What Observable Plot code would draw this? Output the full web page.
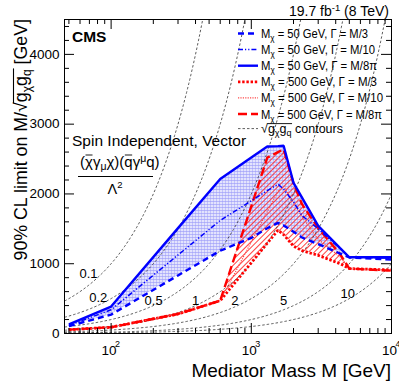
<!DOCTYPE html>
<html><head><meta charset="utf-8">
<script src="https://cdn.jsdelivr.net/npm/d3@7"></script>
<script src="https://cdn.jsdelivr.net/npm/@observablehq/plot@0.6"></script>
<style>
html,body{margin:0;padding:0;background:#fff;}
#chart{position:relative;width:399px;height:383px;}
</style></head><body>
<svg width="0" height="0" style="position:absolute">
<defs>
<pattern id="bluePat" width="3" height="3" patternUnits="userSpaceOnUse">
<rect width="3" height="3" fill="#dcdcfd" fill-opacity="0.8"/>
<rect width="3" height="1" fill="#9a9af8" fill-opacity="0.6"/>
<rect width="1" height="3" fill="#9a9af8" fill-opacity="0.45"/>
</pattern>
<pattern id="redPat" width="4" height="4" patternUnits="userSpaceOnUse" patternTransform="rotate(45)">
<line x1="0.5" y1="0" x2="0.5" y2="4" stroke="#ff2a2a" stroke-width="0.9"/>
</pattern>
</defs></svg>
<div id="chart"></div>
<script>
// ---------- data ----------
const massGrid = [50, 100, 300, 600, 1000, 1300, 1550, 1700, 2000, 2300, 3000, 4300, 5000, 10000];
const blueM3   = [105, 271, 832, 1186, 1370, 1509, 1585, 1549, 1457, 1376, 1281, 1145, 1090, 1060];
const blueM10  = [115, 340, 1125, 1620, 1902, 2047, 2140, 2068, 1885, 1690, 1500, 1215, 1095, 1080];
const blueM8pi = [130, 386, 1510, 2214, 2522, 2680, 2685, 2690, 2160, 1947, 1543, 1224, 1093, 1093];
const redM3    = [55, 90, 280, 470, 1014, 1294, 1480, 1417, 1253, 1188, 1120, 1000, 930, 910];
const redM10   = [55, 90, 280, 470, 1313, 1747, 2038, 2110, 1874, 1676, 1350, 1100, 930, 905];
const redM8pi  = [55, 90, 280, 470, 1823, 2520, 2600, 2640, 2150, 1853, 1510, 1138, 930, 900];

const couplings = [0.1, 0.2, 0.5, 1, 2, 5, 10];
const couplingLabels = ["0.1", "0.2", "0.5", "1", "2", "5", "10"];
const labelAnchorM = [69, 81, 201, 400, 762, 1700, 4880];
const labelAnchorV = [860, 516, 473, 473, 473, 473, 573];

const yMajorTicks = [0, 1000, 2000, 3000, 4000];
const yTickLabels = ["0", "1000", "2000", "3000", "4000"];
const xMajorTicks = [100, 1000, 10000];
const xTickExponents = ["2", "3", "4"];

// ---------- layout ----------
const W = 399, H = 383, ML = 64, MR = 8, MT = 19, MB = 50;
const X0 = 46.5, X1 = 10000, Y1 = 4500;
const pxPerDecade = (W - ML - MR) / Math.log10(X1 / X0);
const xIn = len => X0 * Math.pow(10, len / pxPerDecade);
const xInR = len => X1 / Math.pow(10, len / pxPerDecade);
const vPerPx = Y1 / (H - MT - MB);

const yMinorTicks = d3.range(200, 4500, 200).filter(v => v % 1000 !== 0);
const xMinorTicks = [];
[10, 100, 1000].forEach(dec => { for (let k = 2; k <= 9; k++) { const v = k * dec; if (v >= X0 && v <= X1) xMinorTicks.push(v); } });

const rows = massGrid.map((M, i) => ({
  M, bM3: blueM3[i], bM10: blueM10[i], bM8pi: blueM8pi[i],
  rM3: redM3[i], rM10: redM10[i], rM8pi: redM8pi[i]
}));

const contourPts = couplings.flatMap(c =>
  d3.range(0, 301).map(k => { const M = X0 * Math.pow(X1 / X0, k / 300); return {c, M, v: M / c}; })
    .filter(p => p.v <= Y1 * 1.6));

const labelRows = couplingLabels.map((t, i) => ({t, M: labelAnchorM[i], v: labelAnchorV[i]}));

const styles = {
  bM3:   {stroke: "#0000ff", width: 2.4, dash: "6,4"},
  bM10:  {stroke: "#0000ff", width: 1.5, dash: "5,2,1.2,2,1.2,2"},
  bM8pi: {stroke: "#0000ff", width: 2.4, dash: null},
  rM3:   {stroke: "#ff0000", width: 2.8, dash: "2.4,1.8"},
  rM10:  {stroke: "#ff4a4a", width: 1.2, dash: "1.2,1.2"},
  rM8pi: {stroke: "#ff0000", width: 2.4, dash: "9,4"},
  contour: {stroke: "#333333", width: 0.8, dash: "2.5,2"}
};
const lineMark = key => Plot.line(rows, {x: "M", y: key, stroke: styles[key].stroke,
  strokeWidth: styles[key].width, strokeDasharray: styles[key].dash || undefined,
  strokeLinecap: "butt", strokeLinejoin: "miter"});

const font = "'Liberation Sans', Arial, Helvetica, sans-serif";

const plot = Plot.plot({
  width: W, height: H,
  marginLeft: ML, marginRight: MR, marginTop: MT, marginBottom: MB,
  style: {background: "white", fontFamily: font, overflow: "visible"},
  x: {type: "log", domain: [X0, X1], axis: null},
  y: {domain: [0, Y1], axis: null},
  marks: [
    Plot.areaY(rows, {x: "M", y1: "bM3", y2: "bM8pi", fill: "url(#bluePat)"}),
    Plot.areaY(rows, {x: "M", y1: "rM3", y2: "rM8pi", fill: "url(#redPat)"}),
    Plot.line(contourPts, {x: "M", y: "v", z: "c", stroke: styles.contour.stroke,
      strokeWidth: styles.contour.width, strokeDasharray: styles.contour.dash, strokeLinecap: "butt", clip: true}),
    lineMark("rM3"), lineMark("rM10"), lineMark("rM8pi"),
    lineMark("bM3"), lineMark("bM10"), lineMark("bM8pi"),
    Plot.frame({stroke: "black", strokeWidth: 1}),
    // ticks (pointing inward, on all four sides)
    Plot.ruleY(yMajorTicks, {y: d => d, x1: () => X0, x2: () => xIn(10), stroke: "black"}),
    Plot.ruleY(yMinorTicks, {y: d => d, x1: () => X0, x2: () => xIn(5), stroke: "black"}),
    Plot.ruleY(yMajorTicks, {y: d => d, x1: () => X1, x2: () => xInR(10), stroke: "black"}),
    Plot.ruleY(yMinorTicks, {y: d => d, x1: () => X1, x2: () => xInR(5), stroke: "black"}),
    Plot.ruleX(xMajorTicks, {x: d => d, y1: () => 0, y2: () => 10 * vPerPx, stroke: "black"}),
    Plot.ruleX(xMinorTicks, {x: d => d, y1: () => 0, y2: () => 5 * vPerPx, stroke: "black"}),
    Plot.ruleX(xMajorTicks, {x: d => d, y1: () => Y1, y2: () => Y1 - 10 * vPerPx, stroke: "black"}),
    Plot.ruleX(xMinorTicks, {x: d => d, y1: () => Y1, y2: () => Y1 - 5 * vPerPx, stroke: "black"}),
    // tick labels
    Plot.text(yMajorTicks, {x: () => X0, y: d => d, text: (d, i) => yTickLabels[i], textAnchor: "end",
      dx: -5, fontSize: 13.5, fill: "black"}),
    Plot.text(xMajorTicks, {x: d => d, y: () => 0, text: () => "10", dx: -2, dy: 17, fontSize: 13.5, fill: "black"}),
    Plot.text(xMajorTicks, {x: d => d, y: () => 0, text: (d, i) => xTickExponents[i], dx: 6.5, dy: 11,
      fontSize: 9, fill: "black"}),
    // contour labels
    Plot.text(labelRows, {x: "M", y: "v", text: "t", fontSize: 13, fill: "black"})
  ]
});
document.getElementById("chart").appendChild(plot);

// ---------- titles, legend and annotations ----------
const svg = d3.select(plot);
svg.attr("font-family", font);
const addText = (x, y, size, anchor) => svg.append("text").attr("x", x).attr("y", y)
  .attr("font-size", size).attr("text-anchor", anchor || "start").attr("fill", "black");

// y-axis title
{
  const g = svg.append("g").attr("transform", "translate(27,19) rotate(-90)");
  const t = g.append("text").attr("text-anchor", "end").attr("font-size", 17.8).attr("fill", "black");
  t.append("tspan").text("90% CL limit on M/\u221A");
  const rad = t.append("tspan");
  rad.append("tspan").text("g");
  rad.append("tspan").attr("font-size", 12).attr("dy", 4).text("\u03C7");
  rad.append("tspan").attr("dy", -4).text("g");
  rad.append("tspan").attr("font-size", 12).attr("dy", 4).text("q");
  t.append("tspan").attr("dy", -4).text(" [GeV]");
  const bb = rad.node().getBBox();
  g.append("line").attr("x1", bb.x - 1).attr("x2", bb.x + bb.width + 1)
    .attr("y1", bb.y + 2.5).attr("y2", bb.y + 2.5).attr("stroke", "black").attr("stroke-width", 1.1);
}
// x-axis title
addText(391, 377, 19, "end").text("Mediator Mass M [GeV]");
// luminosity
{
  const t = addText(389, 16, 14, "end");
  t.append("tspan").text("19.7 fb");
  t.append("tspan").attr("font-size", 9.5).attr("dy", -5).text("-1");
  t.append("tspan").attr("dy", 5).text(" (8 TeV)");
}
// CMS
addText(72, 42, 15.5).attr("font-weight", "bold").text("CMS");
addText(72, 146, 15.5).text("Spin Independent, Vector");
// operator
{
  const t = addText(80, 167, 15);
  t.append("tspan").text("(");
  const chiBar = t.append("tspan").text("\u03C7");
  t.append("tspan").text("\u03B3");
  t.append("tspan").attr("font-size", 10.5).attr("dy", 3).text("\u03BC");
  t.append("tspan").attr("dy", -3).text("\u03C7)(");
  const qBar = t.append("tspan").text("q");
  t.append("tspan").text("\u03B3");
  t.append("tspan").attr("font-size", 10.5).attr("dy", -5).text("\u03BC");
  t.append("tspan").attr("dy", 5).text("q)");
  [chiBar, qBar].forEach(s => {
    const b = s.node().getBBox();
    svg.append("line").attr("x1", b.x + 0.5).attr("x2", b.x + b.width - 0.5)
      .attr("y1", b.y + 2).attr("y2", b.y + 2).attr("stroke", "black").attr("stroke-width", 0.9);
  });
  svg.append("line").attr("x1", 78).attr("x2", 153).attr("y1", 176.5).attr("y2", 176.5).attr("stroke", "black").attr("stroke-width", 1);
  const l = addText(115, 194, 14.5, "middle");
  l.append("tspan").text("\u039B");
  l.append("tspan").attr("font-size", 9.5).attr("dy", -6).text("2");
}
// legend
{
  const entries = [
    {key: "bM3", mass: "50", width: "M/3", len: 107},
    {key: "bM10", mass: "50", width: "M/10", len: 114},
    {key: "bM8pi", mass: "50", width: "M/8\u03C0", len: 116},
    {key: "rM3", mass: "500", width: "M/3", len: 116},
    {key: "rM10", mass: "500", width: "M/10", len: 122},
    {key: "rM8pi", mass: "500", width: "M/8\u03C0", len: 121}
  ];
  const y0 = 33.5, step = 16.1;
  entries.forEach((e, i) => {
    const y = y0 + i * step;
    const s = styles[e.key];
    svg.append("line").attr("x1", 238).attr("x2", 258).attr("y1", y).attr("y2", y)
      .attr("stroke", s.stroke).attr("stroke-width", s.width).attr("stroke-dasharray", s.dash);
    const t = addText(261, y + 4.5, 12.5).attr("textLength", e.len).attr("lengthAdjust", "spacingAndGlyphs");
    t.append("tspan").text("M");
    t.append("tspan").attr("font-size", 9).attr("dy", 3).text("\u03C7");
    t.append("tspan").attr("dy", -3).text(` = ${e.mass} GeV, \u0393 = ${e.width}`);
  });
  const y = y0 + 6 * step - 1.5;
  const s = styles.contour;
  svg.append("line").attr("x1", 238).attr("x2", 258).attr("y1", y).attr("y2", y)
    .attr("stroke", s.stroke).attr("stroke-width", s.width).attr("stroke-dasharray", s.dash);
  const t = addText(261, y + 4.5, 12.5);
  t.append("tspan").text("\u221A");
  const rad = t.append("tspan");
  rad.append("tspan").text("g");
  rad.append("tspan").attr("font-size", 9).attr("dy", 3).text("\u03C7");
  rad.append("tspan").attr("dy", -3).text("g");
  rad.append("tspan").attr("font-size", 9).attr("dy", 3).text("q");
  t.append("tspan").attr("dy", -3).text(" contours");
  const bb = rad.node().getBBox();
  svg.append("line").attr("x1", bb.x - 0.5).attr("x2", bb.x + bb.width + 0.5)
    .attr("y1", bb.y + 1.5).attr("y2", bb.y + 1.5).attr("stroke", "black").attr("stroke-width", 0.9);
}
</script>
</body></html>
